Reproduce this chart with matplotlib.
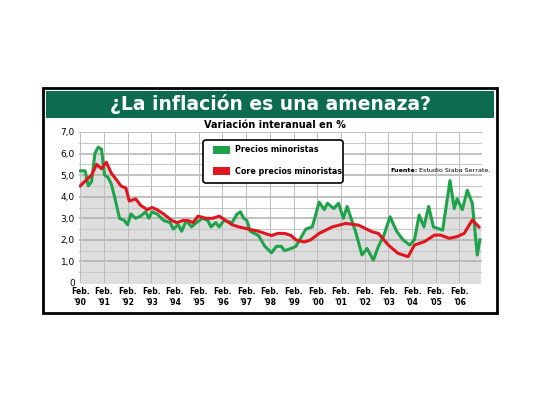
import matplotlib
matplotlib.use("Agg")
import matplotlib.pyplot as plt
import numpy as np
from matplotlib.patches import Rectangle, FancyBboxPatch

# t = years since Feb 1990
green_t = [0,0.21,0.34,0.48,0.62,0.76,0.9,1.03,1.17,1.31,1.45,1.66,1.86,2.0,2.14,2.34,2.55,2.76,2.9,3.03,3.24,3.52,3.79,3.93,4.14,4.28,4.48,4.69,4.9,5.17,5.38,5.52,5.72,5.86,6.07,6.41,6.62,6.76,6.9,7.03,7.17,7.52,7.79,8.07,8.28,8.48,8.62,8.9,9.1,9.31,9.52,9.79,
           10.08,10.3,10.43,10.7,10.9,11.1,11.26,11.61,11.89,12.1,12.37,12.58,12.79,13.07,13.35,13.62,13.9,14.1,14.3,14.5,14.7,14.9,15.29,15.6,15.78,15.9,16.12,16.33,16.54,16.75,16.86]
green_v = [5.2,5.2,4.5,4.7,6.0,6.3,6.2,5.0,4.9,4.6,4.0,3.0,2.9,2.7,3.2,3.0,3.1,3.3,3.0,3.3,3.2,2.9,2.8,2.5,2.7,2.4,2.9,2.6,2.8,3.0,2.9,2.6,2.8,2.6,2.9,2.8,3.2,3.3,3.0,2.9,2.4,2.2,1.7,1.4,1.7,1.7,1.5,1.6,1.7,2.1,2.5,2.6,
           3.75,3.4,3.7,3.45,3.7,3.0,3.55,2.4,1.3,1.6,1.06,1.7,2.15,3.07,2.4,2.0,1.76,2.0,3.15,2.6,3.55,2.6,2.45,4.75,3.45,3.9,3.4,4.3,3.7,1.3,2.0]
red_t = [0,0.28,0.48,0.69,0.9,1.1,1.31,1.52,1.72,1.93,2.07,2.34,2.55,2.83,3.03,3.24,3.52,3.86,4.07,4.34,4.55,4.76,4.97,5.31,5.59,5.86,6.14,6.41,6.69,7.1,7.52,7.79,8.07,8.34,8.62,8.9,9.1,9.45,9.72,
         10.08,10.64,11.2,11.75,12.3,12.58,13.0,13.4,13.83,14.1,14.53,14.94,15.2,15.57,15.9,16.2,16.54,16.82]
red_v = [4.5,4.8,5.0,5.5,5.3,5.6,5.1,4.8,4.5,4.4,3.8,3.9,3.6,3.4,3.5,3.4,3.2,2.9,2.8,2.9,2.9,2.8,3.1,3.0,3.0,3.1,2.9,2.7,2.6,2.5,2.4,2.3,2.2,2.3,2.3,2.2,2.0,1.9,2.0,
         2.3,2.6,2.76,2.68,2.38,2.3,1.76,1.38,1.22,1.76,1.92,2.22,2.22,2.07,2.15,2.3,2.92,2.6]
tick_labels = ["Feb.\n'%02d" % (y % 100) for y in range(1990, 2007)]
ytick_labels = ["0","1,0","2,0","3,0","4,0","5,0","6,0","7,0"]

fig = plt.figure(figsize=(5.4, 4.05), dpi=100)
fig.add_artist(Rectangle((43/540, 1-313/405), 454/540, 225/405, transform=fig.transFigure,
                         facecolor="white", edgecolor="black", lw=2, zorder=-5))
fig.add_artist(Rectangle((46/540, 1-118/405), 448/540, 27/405, transform=fig.transFigure,
                         facecolor="#0d6b50", edgecolor="none", zorder=-4))
fig.text(270/540, 1-104/405, "¿La inflación es una amenaza?", color="white", fontsize=13.5,
         fontweight="bold", ha="center", va="center")
fig.text(275/540, 1-125/405, "Variación interanual en %", fontsize=7, fontweight="bold",
         ha="center", va="center")

ax = fig.add_axes([79/540, 1-283/405, 403/540, 151/405])
ax.set_facecolor("none")
ax.set_xlim(-0.05, 16.95)
ax.set_ylim(0, 7)
tt = np.linspace(0, 16.86, 800)
top = np.maximum(np.interp(tt, green_t, green_v), np.interp(tt, red_t, red_v))
ax.fill_between(tt, 0, top, color="#dedede", zorder=0)
for y in np.arange(0.5, 7.01, 0.5):
    ax.axhline(y, color="#c8c8c8" if y % 1 else "#b0b0b0", lw=0.8 if y % 1 else 1.1, zorder=1)
for x in range(17):
    ax.axvline(x, color="#bcbcbc", lw=0.7, zorder=1)
ax.plot(green_t, green_v, color="#1fa34a", lw=2.2, zorder=3)
ax.plot(red_t, red_v, color="#e0161e", lw=2.2, zorder=4)
ax.set_xticks(range(17))
ax.set_xticklabels(tick_labels, fontsize=5.5, fontweight="bold", linespacing=1.3)
ax.set_yticks(range(8))
ax.set_yticklabels(ytick_labels, fontsize=6.5)
ax.tick_params(length=0, pad=3)
for s in ax.spines.values():
    s.set_visible(False)

# legend
lg = FancyBboxPatch((203/540, 1-183/405), 140/540, 43/405, boxstyle="round,pad=0,rounding_size=0.006",
                    transform=fig.transFigure, facecolor="white", edgecolor="black", lw=1.2, zorder=5)
fig.add_artist(lg)
for yy, c, lab in [(150, "#1fa34a", "Precios minoristas"), (171, "#e0161e", "Core precios minoristas")]:
    fig.add_artist(Rectangle((213/540, 1-(yy+4)/405), 17/540, 8/405, transform=fig.transFigure,
                             facecolor=c, edgecolor="none", zorder=6))
    fig.text(235/540, 1-yy/405, lab, fontsize=5.8, fontweight="bold", va="center", zorder=6)
fig.text(418/540, 1-170/405, "Fuente:", fontsize=4.6, fontweight="bold", ha="right", va="center")
fig.text(419/540, 1-170/405, "Estudio Siaba Serrate.", fontsize=4.6, ha="left", va="center")

fig.savefig("out.png", dpi=100)
